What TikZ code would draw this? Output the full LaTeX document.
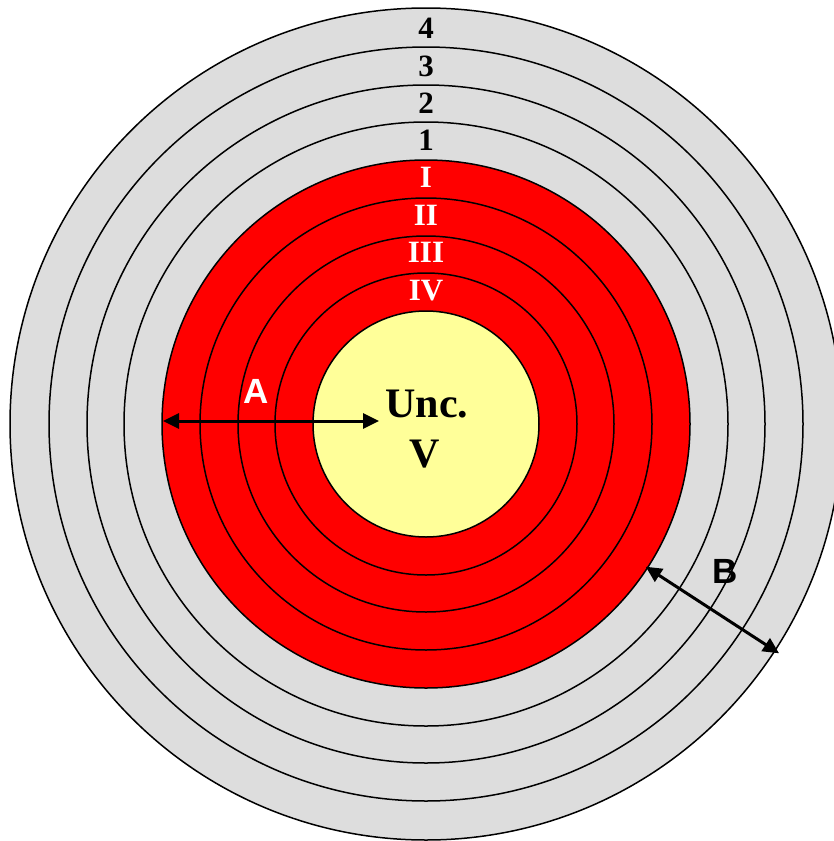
\documentclass[tikz,border=0pt]{standalone}
\usepackage{fontspec}
\setmainfont{Liberation Serif}
\setsansfont{Liberation Sans}
\usetikzlibrary{arrows.meta}
\definecolor{ringgray}{RGB}{221,221,221}
\definecolor{ringred}{RGB}{255,0,0}
\definecolor{coreyellow}{RGB}{255,255,153}
\tikzset{
  ring/.style={draw=black, line width=1.5pt},
  numlabel/.style={font=\fontsize{31}{31}\selectfont\bfseries, text=black, inner sep=0pt, anchor=base},
  romlabel/.style={font=\fontsize{31}{31}\selectfont\bfseries, text=white, inner sep=0pt, anchor=base},
  corelabel/.style={font=\fontsize{42}{42}\selectfont\bfseries, text=black, inner sep=0pt, anchor=base},
  letterlabel/.style={font=\sffamily\bfseries\fontsize{35}{35}\selectfont, inner sep=0pt, anchor=base},
  dimarrow/.style={line width=3pt, {Triangle[length=16pt,width=15pt]}-{Triangle[length=16pt,width=15pt]}}
}
\begin{document}
\begin{tikzpicture}[x=1pt,y=-1pt]
\useasboundingbox (0,0) rectangle (834,841);
\clip (0,0) rectangle (834,841);
\coordinate (c) at (426,424);
% grey rings
\foreach \r in {416,377,339,302}{
  \fill[ringgray] (c) circle[radius=\r pt];
  \draw[ring] (c) circle[radius=\r pt];
}
% red rings
\foreach \r in {264,226,188,151}{
  \fill[ringred] (c) circle[radius=\r pt];
  \draw[ring] (c) circle[radius=\r pt];
}
\fill[coreyellow] (c) circle[radius=113pt];
\draw[ring] (c) circle[radius=113pt];
% ring labels
\node[numlabel] (n4) at (426,38) {4};
\node[numlabel] (n3) at (426,76) {3};
\node[numlabel] (n2) at (426,113) {2};
\node[numlabel] (n1) at (426,150) {1};
\node[romlabel] (r1) at (426,187) {I};
\node[romlabel] (r2) at (426,225) {II};
\node[romlabel] (r3) at (426,262) {III};
\node[romlabel] (r4) at (426,300) {IV};
\node[corelabel] (unc) at (427,417) {Unc.};
\node[corelabel] (v) at (425,467) {V};
% dimension arrows
\coordinate (a1) at (163,421);
\coordinate (a2) at (379,421);
\draw[dimarrow] (a1) -- (a2);
\node[letterlabel, text=white] (la) at (256,403) {A};
\path (c) ++(33:262) coordinate (b1);
\path (c) ++(33:421) coordinate (b2);
\draw[dimarrow] (b1) -- (b2);
\node[letterlabel, text=black] (lb) at (725,583) {B};
\end{tikzpicture}
\end{document}
